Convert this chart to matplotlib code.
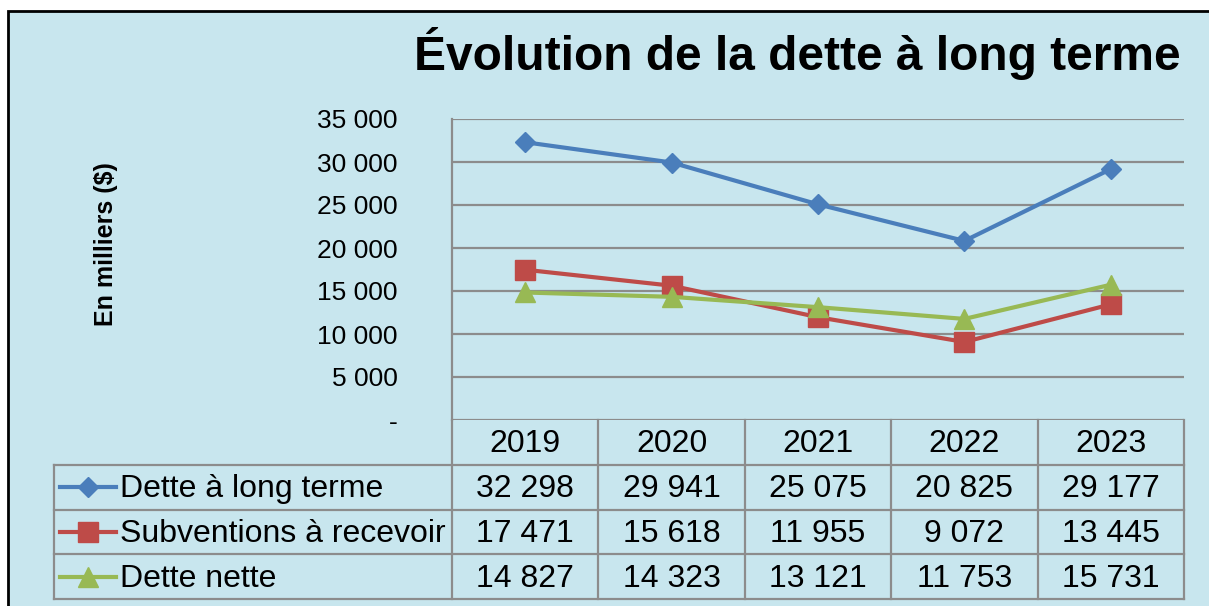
import matplotlib
matplotlib.use("Agg")
import matplotlib.pyplot as plt
from matplotlib.patches import Rectangle
from matplotlib.ticker import FuncFormatter
from matplotlib.lines import Line2D

plt.rcParams['font.family'] = ['Liberation Sans', 'DejaVu Sans']

# data
years = ['2019', '2020', '2021', '2022', '2023']
dette_long_terme = [32298, 29941, 25075, 20825, 29177]
subventions = [17471, 15618, 11955, 9072, 13445]
dette_nette = [14827, 14323, 13121, 11753, 15731]
series_names = ['Dette à long terme', 'Subventions à recevoir', 'Dette nette']

BG = '#c8e6ee'
GRID = '#8c8c8c'
colors = ['#4a7ebb', '#be4b48', '#98b954']
markers = ['D', 's', '^']
msizes = [10, 14, 14]

W, H = 1209, 606


def fmt(v):
    return f"{v:,}".replace(",", " ")


fig = plt.figure(figsize=(W / 100, H / 100), dpi=100)
fig.patch.set_facecolor('white')

# chart frame (only top and left edges are visible)
fig.patches.append(Rectangle((8 / W, -0.1), 1.2, 1.1 - 11 / H, transform=fig.transFigure,
                             facecolor=BG, edgecolor='black', lw=2, zorder=-5))

fig.text(1181 / W, 1 - 70 / H, 'Évolution de la dette à long terme', ha='right', va='baseline',
         fontsize=34.5, fontweight='bold')
fig.text(106 / W, 1 - 244 / H, 'En milliers ($)', rotation=90, ha='center', va='center',
         fontsize=18, fontweight='bold')

ax = fig.add_axes([452 / W, 1 - 420 / H, 732 / W, 301 / H])
ax.set_facecolor('none')
x = list(range(len(years)))
ax.set_xlim(-0.5, len(years) - 0.5)
ax.set_ylim(0, 35000)
ax.set_yticks(range(0, 35001, 5000))
ax.yaxis.set_major_formatter(FuncFormatter(lambda v, p: '-' if v == 0 else fmt(int(v))))
ax.set_xticks([])
ax.yaxis.grid(True, color=GRID, lw=1.6)
ax.set_axisbelow(True)
for s in ['top', 'right', 'bottom']:
    ax.spines[s].set_visible(False)
ax.spines['left'].set_color(GRID)
ax.spines['left'].set_linewidth(1.6)
ax.tick_params(axis='y', length=0, pad=39, labelsize=19)

all_series = [dette_long_terme, subventions, dette_nette]
for vals, c, m, ms in zip(all_series, colors, markers, msizes):
    ax.plot(x, vals, color=c, lw=3, marker=m, markersize=ms, zorder=3)

# data table under the plot
n = len(years)
h = 44.75 / 301
dy = 2 / 301  # small downward nudge of the cell text
left = (54 - 452) / 732
kw = dict(transform=ax.transAxes, color=GRID, lw=1.6, clip_on=False)
for k in range(1, n + 1):
    ax.add_line(Line2D([k / n, k / n], [0, -4 * h], **kw))
ax.add_line(Line2D([0, 0], [0, -4 * h], **kw))
ax.add_line(Line2D([left, left], [-h, -4 * h], **kw))
for r in range(1, 5):
    ax.add_line(Line2D([left, 1], [-r * h, -r * h], **kw))

for i, yr in enumerate(years):
    ax.text((i + 0.5) / n, -0.5 * h - dy, yr, transform=ax.transAxes, ha='center', va='center',
            fontsize=23)

for r, (name, vals, c, m, ms) in enumerate(zip(series_names, all_series, colors, markers, msizes)):
    yc = -(r + 1.5) * h
    ax.add_line(Line2D([(60 - 452) / 732, (116 - 452) / 732], [yc, yc], transform=ax.transAxes,
                       color=c, lw=3, clip_on=False))
    ax.add_line(Line2D([(88 - 452) / 732], [yc], transform=ax.transAxes, color=c, marker=m,
                       markersize=ms, ls='none', clip_on=False))
    ax.text((120 - 452) / 732, yc - dy, name, transform=ax.transAxes, ha='left', va='center',
            fontsize=23)
    for i, v in enumerate(vals):
        ax.text((i + 0.5) / n, yc - dy, fmt(v), transform=ax.transAxes, ha='center', va='center',
                fontsize=23)

fig.savefig('out.png', dpi=100)
